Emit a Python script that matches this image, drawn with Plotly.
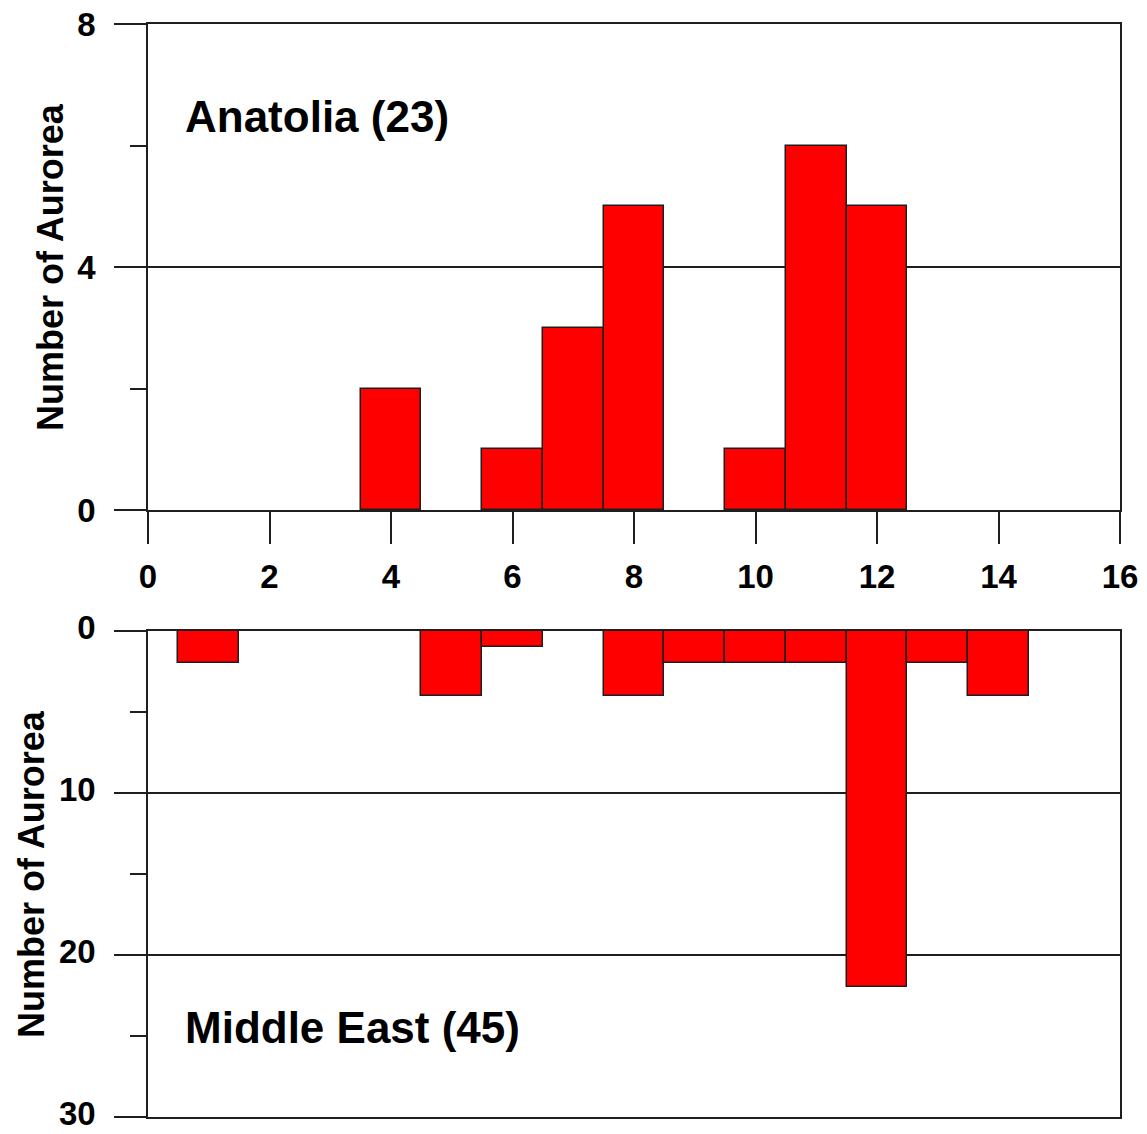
import plotly.graph_objects as go

# ---- data ----
anatolia_x = [4, 6, 7, 8, 10, 11, 12]
anatolia_counts = [2, 1, 3, 5, 1, 6, 5]
mideast_x = [1, 5, 6, 8, 9, 10, 11, 12, 13, 14]
mideast_counts = [2, 4, 1, 4, 2, 2, 2, 22, 2, 4]
x_ticks = [0, 2, 4, 6, 8, 10, 12, 14, 16]
top_y_ticks = [0, 4, 8]
bottom_y_ticks = [0, 10, 20, 30]
top_label = "Anatolia (23)"
bottom_label = "Middle East (45)"
y_title = "Number of Aurorea"

FONT = "Liberation Sans, Arial, sans-serif"
LINE = "#1e1e1e"
RED = "#FF0000"

fig = go.Figure()
fig.add_trace(go.Bar(x=anatolia_x, y=anatolia_counts, width=1,
                     marker=dict(color=RED, line=dict(color=LINE, width=1.5)),
                     xaxis="x", yaxis="y", hoverinfo="skip", showlegend=False))
fig.add_trace(go.Bar(x=mideast_x, y=mideast_counts, width=1,
                     marker=dict(color=RED, line=dict(color=LINE, width=1.5)),
                     xaxis="x2", yaxis="y2", hoverinfo="skip", showlegend=False))

tickfont = dict(family=FONT, size=33, color="black", weight="bold")

common_axis = dict(showline=True, linecolor=LINE, linewidth=1.5, mirror=True,
                   zeroline=False, tickcolor=LINE, tickwidth=1.5, tickfont=tickfont,
                   automargin=False, ticklabeloverflow="allow")

top_dom = [1 - 486 / 1093, 1.0]
bot_dom = [0.0, 486 / 1093]

fig.update_layout(
    width=1147, height=1134,
    margin=dict(l=148, r=27, t=24, b=17),
    paper_bgcolor="white", plot_bgcolor="white",
    bargap=0,
    font=dict(family=FONT, color="black"),
    xaxis=dict(common_axis, domain=[0, 1], range=[0, 16], anchor="y",
               tickmode="array", tickvals=x_ticks, ticktext=[str(v) for v in x_ticks],
               ticks="outside", ticklen=32, showgrid=False, ticklabelstandoff=5),
    yaxis=dict(common_axis, domain=top_dom, range=[0, 8], anchor="x",
               tickmode="array", tickvals=top_y_ticks, ticktext=[str(v) for v in top_y_ticks],
               ticks="outside", ticklen=32, showgrid=True, gridcolor=LINE, gridwidth=1.5,
               minor=dict(tickmode="array", tickvals=[2, 6], ticks="outside", ticklen=16,
                          tickcolor=LINE, tickwidth=1.5, showgrid=False),
               ticklabelstandoff=12),
    xaxis2=dict(common_axis, domain=[0, 1], range=[0, 16], anchor="y2",
                ticks="", showticklabels=False, showgrid=False),
    yaxis2=dict(common_axis, domain=bot_dom, range=[30, 0], anchor="x2",
                tickmode="array", tickvals=bottom_y_ticks, ticktext=[str(v) for v in bottom_y_ticks],
                ticks="outside", ticklen=32, showgrid=True, gridcolor=LINE, gridwidth=1.5,
                minor=dict(tickmode="array", tickvals=[5, 15, 25], ticks="outside", ticklen=16,
                           tickcolor=LINE, tickwidth=1.5, showgrid=False),
                ticklabelstandoff=12, ticklabelshift=4),
)

labfont = dict(family=FONT, size=44, color="black", weight="bold")
fig.add_annotation(x=0.58, y=6.47, xref="x", yref="y", text=top_label, showarrow=False,
                   xanchor="left", yanchor="middle", font=labfont)
fig.add_annotation(x=0.58, y=24.5, xref="x2", yref="y2", text=bottom_label, showarrow=False,
                   xanchor="left", yanchor="middle", font=labfont)

titlefont = dict(family=FONT, size=36, color="black", weight="bold")
for dom, xpix in ((top_dom, 50), (bot_dom, 31)):
    fig.add_annotation(x=(xpix - 148) / 972, y=(dom[0] + dom[1]) / 2, xref="paper", yref="paper",
                       text=y_title, textangle=-90, showarrow=False,
                       xanchor="center", yanchor="middle", font=titlefont)

fig.write_html("out.html", config={"displayModeBar": False},
               post_script="document.body.style.margin='0';document.body.style.overflow='hidden';")
